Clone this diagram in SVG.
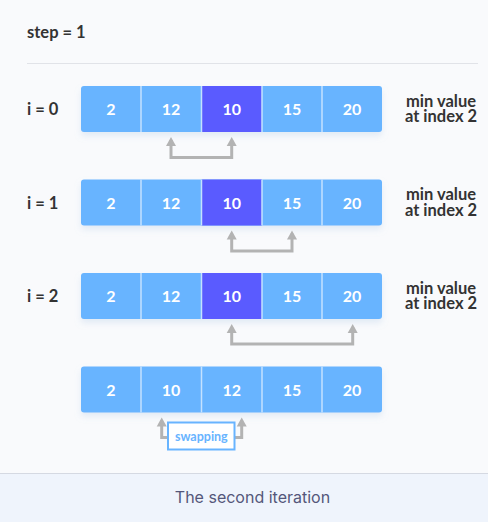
<svg xmlns="http://www.w3.org/2000/svg" width="488" height="522" viewBox="0 0 488 522">
<defs>
<style>
.lbl{font-family:Lato,"Liberation Sans",sans-serif;font-weight:700;font-size:16.5px;fill:#333}
.num{font-family:Lato,"Liberation Sans",sans-serif;font-weight:700;font-size:16px;fill:#fff;text-anchor:middle}
.cell{fill:#68b4ff}
.min{fill:#5a5bff}
.div{stroke:#c4e2ff;stroke-width:1.5}
.conn{fill:none;stroke:#b3b3b3;stroke-width:3}
.head{fill:#b3b3b3}
.side{font-family:Lato,"Liberation Sans",sans-serif;font-weight:700;font-size:16.5px;fill:#333;text-anchor:middle}
</style>
<filter id="sh" x="-5%" y="-20%" width="110%" height="160%">
<feDropShadow dx="0" dy="4" stdDeviation="3" flood-color="#9bbbe0" flood-opacity="0.25"/>
</filter>
</defs>
<rect width="488" height="522" fill="#f9fafc"/>
<text class="lbl" x="27" y="38">step = 1</text>
<line x1="27" y1="63.5" x2="478" y2="63.5" stroke="#e1e3e8" stroke-width="1"/>

<g id="row0">
<text class="lbl" x="27" y="115">i = 0</text>
<rect x="81" y="86" width="301" height="46" rx="3" class="cell" filter="url(#sh)"/>
<rect x="201.5" y="86" width="60.5" height="46" class="min"/>
<line class="div" x1="141" y1="86" x2="141" y2="132"/>
<line class="div" x1="201.5" y1="86" x2="201.5" y2="132"/>
<line class="div" x1="262" y1="86" x2="262" y2="132"/>
<line class="div" x1="322" y1="86" x2="322" y2="132"/>
<text class="num" x="111" y="115">2</text>
<text class="num" x="171" y="115">12</text>
<text class="num" x="231.7" y="115">10</text>
<text class="num" x="292" y="115">15</text>
<text class="num" x="352" y="115">20</text>
<text class="side" x="441" y="106.5">min value</text>
<text class="side" x="441" y="122.3">at index 2</text>
</g>

<g id="row1">
<text class="lbl" x="27" y="208.5">i = 1</text>
<rect x="81" y="179.5" width="301" height="46" rx="3" class="cell" filter="url(#sh)"/>
<rect x="201.5" y="179.5" width="60.5" height="46" class="min"/>
<line class="div" x1="141" y1="179.5" x2="141" y2="225.5"/>
<line class="div" x1="201.5" y1="179.5" x2="201.5" y2="225.5"/>
<line class="div" x1="262" y1="179.5" x2="262" y2="225.5"/>
<line class="div" x1="322" y1="179.5" x2="322" y2="225.5"/>
<text class="num" x="111" y="208.5">2</text>
<text class="num" x="171" y="208.5">12</text>
<text class="num" x="231.7" y="208.5">10</text>
<text class="num" x="292" y="208.5">15</text>
<text class="num" x="352" y="208.5">20</text>
<text class="side" x="441" y="200">min value</text>
<text class="side" x="441" y="215.8">at index 2</text>
</g>

<g id="row2">
<text class="lbl" x="27" y="302">i = 2</text>
<rect x="81" y="273" width="301" height="46" rx="3" class="cell" filter="url(#sh)"/>
<rect x="201.5" y="273" width="60.5" height="46" class="min"/>
<line class="div" x1="141" y1="273" x2="141" y2="319"/>
<line class="div" x1="201.5" y1="273" x2="201.5" y2="319"/>
<line class="div" x1="262" y1="273" x2="262" y2="319"/>
<line class="div" x1="322" y1="273" x2="322" y2="319"/>
<text class="num" x="111" y="302">2</text>
<text class="num" x="171" y="302">12</text>
<text class="num" x="231.7" y="302">10</text>
<text class="num" x="292" y="302">15</text>
<text class="num" x="352" y="302">20</text>
<text class="side" x="441" y="293.5">min value</text>
<text class="side" x="441" y="309.3">at index 2</text>
</g>

<g id="row3">
<rect x="81" y="366.5" width="301" height="46" rx="3" class="cell" filter="url(#sh)"/>
<line class="div" x1="141" y1="366.5" x2="141" y2="412.5"/>
<line class="div" x1="201.5" y1="366.5" x2="201.5" y2="412.5"/>
<line class="div" x1="262" y1="366.5" x2="262" y2="412.5"/>
<line class="div" x1="322" y1="366.5" x2="322" y2="412.5"/>
<text class="num" x="111" y="395.5">2</text>
<text class="num" x="171" y="395.5">10</text>
<text class="num" x="231.7" y="395.5">12</text>
<text class="num" x="292" y="395.5">15</text>
<text class="num" x="352" y="395.5">20</text>
</g>

<g id="connectors">
<polyline class="conn" points="171,140 171,157.5 231.7,157.5 231.7,140"/>
<path class="head" d="M166,146 L171,137 L176,146 Z"/>
<path class="head" d="M226.7,146 L231.7,137 L236.7,146 Z"/>
<polyline class="conn" points="231.7,233.5 231.7,251 292,251 292,233.5"/>
<path class="head" d="M226.7,239.5 L231.7,230.5 L236.7,239.5 Z"/>
<path class="head" d="M287,239.5 L292,230.5 L297,239.5 Z"/>
<polyline class="conn" points="231.7,327 231.7,344 352.7,344 352.7,327"/>
<path class="head" d="M226.7,333 L231.7,324 L236.7,333 Z"/>
<path class="head" d="M347.7,333 L352.7,324 L357.7,333 Z"/>
<polyline class="conn" points="161.7,420.5 161.7,437.5 168,437.5"/>
<polyline class="conn" points="241.7,420.5 241.7,437.5 235,437.5"/>
<path class="head" d="M156.7,426.5 L161.7,417.5 L166.7,426.5 Z"/>
<path class="head" d="M236.7,426.5 L241.7,417.5 L246.7,426.5 Z"/>
</g>

<g id="swapping">
<rect x="168" y="422.5" width="66.5" height="27" fill="#fff" stroke="#68b4ff" stroke-width="2"/>
<text x="201.3" y="440.5" text-anchor="middle" font-family="Lato,'Liberation Sans',sans-serif" font-weight="700" font-size="12.5" fill="#68b4ff">swapping</text>
</g>

<g id="footer">
<rect x="0" y="473" width="488" height="49" fill="#eff4fc"/>
<line x1="0" y1="473.5" x2="488" y2="473.5" stroke="#d5d9e2" stroke-width="1"/>
<text x="252.5" y="503" text-anchor="middle" font-family="Inter,'Noto Sans',sans-serif" font-size="16" fill="#54577a">The second iteration</text>
</g>
</svg>
